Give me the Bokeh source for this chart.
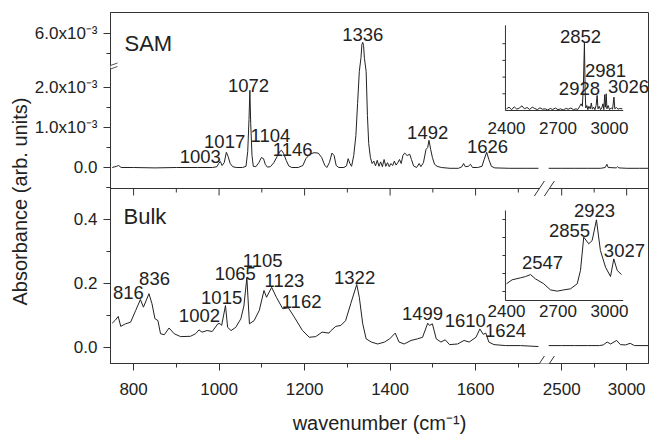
import numpy as np
from bokeh.plotting import figure
from bokeh.models import Range1d, FixedTicker, Span, Arrow, Title
from bokeh.core.properties import value
from bokeh.embed import file_html
from bokeh.resources import INLINE

FONT = "Liberation Sans"
INK = "#222222"
AXIS = "#333333"

# ---------------- data ----------------
# SAM spectrum, absorbance in units of 1e-3, low-wavenumber segment
sam_wn = [750, 760, 765, 771, 800, 850, 900, 950, 985, 995, 999, 1003, 1007, 1012, 1017, 1021, 1026,
          1032, 1040, 1055, 1063, 1067, 1070, 1072, 1074, 1077, 1080, 1086, 1093, 1099, 1104, 1108,
          1113, 1120, 1128, 1136, 1142, 1146, 1151, 1157, 1163, 1170, 1185, 1196, 1203, 1212, 1222,
          1232, 1240, 1247, 1252, 1258, 1264, 1269, 1274, 1280, 1292, 1298, 1302, 1306, 1310, 1315,
          1320, 1324, 1328, 1332, 1334, 1336, 1338, 1340, 1344, 1347, 1350, 1354, 1358, 1362, 1366,
          1370, 1374, 1378, 1382, 1386, 1390, 1394, 1398, 1402, 1406, 1410, 1414, 1418, 1422, 1426,
          1430, 1434, 1440, 1446, 1450, 1455, 1462, 1468, 1472, 1478, 1484, 1488, 1491, 1495, 1499,
          1504, 1510, 1520, 1540, 1560, 1568, 1572, 1576, 1583, 1588, 1593, 1605, 1615, 1620, 1626,
          1631, 1637, 1645, 1680, 1720, 1747]
sam_abs_e3 = [0.00, 0.03, 0.05, 0.00, 0.00, -0.01, 0.00, 0.00, 0.00, 0.02, 0.10, 0.15, 0.05, 0.12, 0.38,
              0.28, 0.10, 0.02, 0.00, 0.00, 0.03, 0.40, 1.20, 1.93, 1.10, 0.30, 0.03, 0.02, 0.12, 0.25,
              0.22, 0.08, 0.01, 0.02, 0.12, 0.28, 0.40, 0.43, 0.35, 0.18, 0.04, 0.00, 0.00, 0.05, 0.22,
              0.33, 0.37, 0.36, 0.25, 0.06, 0.00, 0.12, 0.36, 0.30, 0.05, 0.00, 0.00, 0.04, 0.22, 0.10,
              0.03, 0.30, 0.80, 1.60, 2.40, 5.40, 5.72, 5.78, 5.70, 5.38, 2.40, 1.30, 0.60, 0.25, 0.10,
              0.16, 0.04, 0.18, 0.03, 0.14, 0.02, 0.20, 0.03, 0.12, 0.02, 0.10, 0.05, 0.16, 0.06, 0.12,
              0.20, 0.10, 0.30, 0.36, 0.30, 0.33, 0.20, 0.04, 0.00, 0.10, 0.02, 0.12, 0.45, 0.50, 0.68,
              0.45, 0.25, 0.08, 0.03, 0.00, -0.02, -0.02, 0.02, 0.10, 0.02, 0.03, 0.08, 0.00, 0.00, 0.03,
              0.20, 0.38, 0.20, 0.03, -0.01, -0.02, -0.02, -0.02]
# SAM spectrum, high-wavenumber segment
sam_wn_hi = [2400, 2500, 2600, 2700, 2800, 2835, 2848, 2858, 2920, 2930, 2940, 3000, 3100, 3165]
sam_abs_e3_hi = [-0.02, -0.02, -0.02, -0.02, -0.02, 0.00, 0.08, 0.00, -0.01, 0.02, -0.01, -0.02, -0.02, -0.02]
# SAM inset (C-H region, arbitrary units)
sam_inset_wn = [2400, 2415, 2430, 2445, 2460, 2475, 2490, 2505, 2520, 2535, 2550, 2565, 2580, 2595,
                2610, 2625, 2640, 2655, 2670, 2685, 2700, 2715, 2730, 2745, 2760, 2775, 2790, 2805,
                2815, 2825, 2835, 2842, 2848, 2854, 2858, 2862, 2868, 2874, 2880, 2888, 2894, 2900,
                2908, 2915, 2922, 2928, 2933, 2940, 2948, 2955, 2962, 2967, 2972, 2976, 2981, 2985,
                2992, 3000, 3010, 3018, 3026, 3031, 3040, 3050, 3060, 3075]
sam_inset_val = [0.10, 0.20, 0.05, 0.22, 0.08, 0.15, 0.28, 0.10, 0.18, 0.06, 0.20, 0.12, 0.05, 0.16,
                 0.08, 0.10, 0.04, 0.12, 0.06, 0.15, 0.05, 0.10, 0.03, 0.12, 0.08, 0.15, 0.05, 0.10,
                 0.06, 0.22, 0.40, 0.25, 1.50, 4.07, 1.20, 0.15, 0.30, 0.05, 0.25, 0.10, 0.45, 0.08,
                 0.20, 0.05, 0.30, 0.90, 0.10, 0.25, 0.05, 0.15, 0.40, 0.05, 0.95, 0.20, 1.00, 0.10,
                 0.30, 0.05, 0.15, 0.08, 0.80, 0.10, 0.18, 0.08, 0.12, 0.10]

# Bulk spectrum, absorbance, low-wavenumber segment
bulk_wn = [750, 757, 764, 770, 781, 793, 805, 816, 823, 836, 843, 850, 857, 863, 872, 883, 895, 910,
           933, 945, 953, 960, 972, 984, 997, 1002, 1006, 1015, 1020, 1028, 1039, 1051, 1058, 1065,
           1071, 1082, 1094, 1105, 1111, 1123, 1134, 1149, 1162, 1176, 1195, 1211, 1226, 1241, 1257,
           1262, 1273, 1285, 1296, 1308, 1322, 1328, 1336, 1344, 1356, 1371, 1387, 1399, 1412, 1421,
           1433, 1449, 1464, 1476, 1488, 1492, 1499, 1508, 1519, 1529, 1539, 1558, 1573, 1585, 1601,
           1610, 1618, 1624, 1631, 1643, 1670, 1705, 1747]
bulk_abs = [0.076, 0.085, 0.097, 0.066, 0.074, 0.079, 0.116, 0.150, 0.126, 0.168, 0.137, 0.090, 0.084,
            0.043, 0.040, 0.061, 0.043, 0.034, 0.035, 0.043, 0.055, 0.048, 0.053, 0.050, 0.074, 0.075,
            0.069, 0.131, 0.063, 0.053, 0.063, 0.090, 0.130, 0.218, 0.074, 0.084, 0.116, 0.178, 0.157,
            0.188, 0.157, 0.121, 0.124, 0.095, 0.053, 0.032, 0.034, 0.048, 0.045, 0.053, 0.066, 0.069,
            0.084, 0.137, 0.197, 0.157, 0.074, 0.027, 0.017, 0.011, 0.017, 0.027, 0.045, 0.017, 0.011,
            0.022, 0.027, 0.032, 0.076, 0.069, 0.074, 0.027, 0.017, 0.024, 0.009, 0.011, 0.022, 0.017,
            0.032, 0.058, 0.041, 0.045, 0.017, 0.009, 0.006, 0.006, 0.003]
bulk_wn_hi = [2400, 2500, 2600, 2700, 2790, 2820, 2850, 2877, 2923, 2952, 2990, 3027, 3060, 3165]
bulk_abs_hi = [0.006, 0.006, 0.006, 0.006, 0.006, 0.008, 0.017, 0.011, 0.022, 0.009, 0.008, 0.013, 0.006, 0.006]
# Bulk inset (arbitrary units)
bulk_inset_wn = [2400, 2433, 2482, 2511, 2540, 2569, 2617, 2656, 2695, 2734, 2773, 2812, 2831, 2850,
                 2879, 2899, 2924, 2947, 2977, 3006, 3025, 3045, 3070]
bulk_inset_val = [0.93, 1.15, 1.26, 1.33, 1.44, 1.20, 0.93, 0.59, 0.52, 0.59, 0.65, 0.93, 1.67, 3.52,
                  3.15, 3.33, 4.48, 2.78, 1.85, 1.33, 2.31, 1.67, 1.44]

# ticks
x_major = [800, 1000, 1200, 1400, 1600, 2500, 3000]
x_minor = [900, 1100, 1300, 1500, 1700, 2750]
bulk_y_major = [0.0, 0.2, 0.4]
bulk_y_minor = [0.1, 0.3, 0.5]
bulk_y_labels = ["0.0", "0.2", "0.4"]
sam_y_major = [0.0, 1.0, 2.0, 6.0]        # x 1e-3
sam_y_minor = [-0.5, 0.5, 1.5, 5.5]
sam_y_labels = ["0.0", "1.0x10\u207b\u00b3", "2.0x10\u207b\u00b3", "6.0x10\u207b\u00b3"]
inset_x_ticks = [2400, 2700, 3000]
sam_inset_y_ticks = [1, 2, 3, 4]
bulk_inset_y_ticks = [0.5, 1.5, 2.5, 3.5, 4.5]

# peak labels: (text, wavenumber anchor, value anchor)
sam_labels = [("1003", 956, 0.275), ("1017", 1013, 0.65), ("1072", 1069, 2.05), ("1104", 1120, 0.8),
              ("1146", 1172, 0.45), ("1336", 1336, 5.975), ("1492", 1488, 0.875), ("1626", 1628, 0.525)]
sam_inset_labels = [("2852", 2831, 4.43), ("2981", 2977, 2.4), ("2928", 2825, 1.32), ("3026", 3111, 1.44)]
bulk_labels = [("816", 788, 0.172), ("836", 849, 0.216), ("1002", 954, 0.1), ("1015", 1006, 0.156),
               ("1065", 1038, 0.231), ("1105", 1102, 0.272), ("1123", 1153, 0.209), ("1162", 1193, 0.144),
               ("1322", 1317, 0.219), ("1499", 1476, 0.106), ("1610", 1576, 0.084), ("1624", 1670, 0.053)]
bulk_inset_labels = [("2547", 2610, 2.11), ("2855", 2767, 3.89), ("2923", 2913, 5.0), ("3027", 3087, 2.78)]

# ---------------- broken-axis geometry ----------------
PXU = 0.4275                      # px per display x unit
X_LEFT, X_RIGHT = 746.0, 2004.5
X_BREAK_LO, X_BREAK_HI = 1750.0, 2400.0
X_HI_START, X_HI_SCALE = 1771.0, 0.304
INSET_X0, INSET_XS = 1672.3, 0.4016
INSET_X_MIN, INSET_X_MAX = 2394, 3080


def xd(wn):
    wn = np.asarray(wn, float)
    return np.where(wn <= X_BREAK_LO, wn, X_HI_START + (wn - X_BREAK_HI) * X_HI_SCALE)


def xi(wn):
    return INSET_X0 + (np.asarray(wn, float) - 2400.0) * INSET_XS


def y_bulk(a):
    return 16.0 + 320.0 * np.asarray(a, float)


SAM_LO, SAM_HI = 2.575, 5.225


def y_sam(v):
    v = np.asarray(v, float)
    return np.where(v <= SAM_LO, 196.0 + 40.0 * v,
                    np.where(v >= SAM_HI, 90.0 + 40.0 * v, 196.0 + 40.0 * SAM_LO))


def y_sam_in(u):
    return 253.0 + 16.7 * np.asarray(u, float)


def y_bulk_in(u):
    return 63.0 + 18.0 * np.asarray(u, float)


def fl(a):
    return [round(float(v), 6) for v in np.atleast_1d(a)]


MID = 175.0  # boundary between the panels (display units)

p = figure(width=650, height=437, output_backend="svg", toolbar_location=None,
           x_range=Range1d(X_LEFT, X_RIGHT), y_range=Range1d(0, 351),
           min_border_left=110, min_border_right=2, min_border_top=12, min_border_bottom=74)
p.xgrid.visible = False
p.ygrid.visible = False
p.outline_line_color = AXIS
p.background_fill_color = "white"
p.border_fill_color = "white"

# x axis
xmaj = fl(xd(x_major))
xmin = fl(xd(x_minor))
p.xaxis.ticker = FixedTicker(ticks=xmaj, minor_ticks=xmin)
p.xaxis.major_label_overrides = {k: str(t) for k, t in zip(xmaj, x_major)}
# y axis
ymaj = fl(y_bulk(bulk_y_major)) + fl(y_sam(sam_y_major))
ymin = fl(y_bulk(bulk_y_minor)) + fl(y_sam(sam_y_minor))
p.yaxis.ticker = FixedTicker(ticks=ymaj, minor_ticks=ymin)
p.yaxis.major_label_overrides = dict(zip(ymaj, bulk_y_labels + sam_y_labels))

for ax in (p.xaxis[0], p.yaxis[0]):
    ax.axis_line_color = AXIS
    ax.major_tick_line_color = AXIS
    ax.minor_tick_line_color = AXIS
    ax.major_tick_in = 0
    ax.major_tick_out = 7
    ax.minor_tick_in = 0
    ax.minor_tick_out = 4
    ax.major_label_text_font = FONT
    ax.major_label_text_font_size = "17px"
    ax.major_label_text_color = INK
p.xaxis.major_label_standoff = 12
p.yaxis.major_label_standoff = 6
p.xaxis.axis_label = "wavenumber (cm\u207b\u00b9)"
p.xaxis.axis_label_text_font = FONT
p.xaxis.axis_label_text_font_size = "20px"
p.xaxis.axis_label_text_font_style = "normal"
p.xaxis.axis_label_text_color = INK
p.xaxis.axis_label_standoff = 14

# y title, placed on the left side
p.add_layout(Title(text="Absorbance (arb. units)", align="left", offset=58, standoff=2,
                   text_font=FONT, text_font_size="20px", text_font_style="normal",
                   text_color=INK), "left")

# panel boundary with downward ticks
p.add_layout(Span(location=MID, dimension="width", line_color=AXIS, line_width=1))
p.segment(x0=xmaj, y0=[MID] * len(xmaj), x1=xmaj, y1=[MID - 7] * len(xmaj), line_color=AXIS, line_width=1)
p.segment(x0=xmin, y0=[MID] * len(xmin), x1=xmin, y1=[MID - 4] * len(xmin), line_color=AXIS, line_width=1)

# spectra
p.line(fl(xd(sam_wn)), fl(y_sam(sam_abs_e3)), line_color=INK, line_width=1)
p.line(fl(xd(sam_wn_hi)), fl(y_sam(sam_abs_e3_hi)), line_color=INK, line_width=1)
p.line(fl(xd(bulk_wn)), fl(y_bulk(bulk_abs)), line_color=INK, line_width=1)
p.line(fl(xd(bulk_wn_hi)), fl(y_bulk(bulk_abs_hi)), line_color=INK, line_width=1)

# insets
TICK_LEN = 3 / PXU
for yfun, top_u, yticks, wn, val, lab_u in (
        (y_sam_in, 5.1, sam_inset_y_ticks, sam_inset_wn, sam_inset_val, -1.02),
        (y_bulk_in, 5.0, bulk_inset_y_ticks, bulk_inset_wn, bulk_inset_val, -0.56)):
    x0 = float(xi(INSET_X_MIN)); x1 = float(xi(INSET_X_MAX))
    yb = float(yfun(0)); yt = float(yfun(top_u))
    p.line([x0, x1], [yb, yb], line_color=AXIS, line_width=1)
    p.line([x0, x0], [yb, yt], line_color=AXIS, line_width=1)
    ty = fl(yfun(yticks))
    p.segment(x0=[x0] * len(ty), y0=ty, x1=[x0 - TICK_LEN] * len(ty), y1=ty, line_color=AXIS, line_width=1)
    p.line(fl(xi(wn)), fl(yfun(val)), line_color=INK, line_width=1)
    p.text(x=fl(xi(inset_x_ticks)), y=[float(yfun(lab_u))] * len(inset_x_ticks),
           text=[str(t) for t in inset_x_ticks], text_font=value(FONT), text_font_size=value("17px"),
           text_color=INK, text_align="center", text_baseline="middle")


def put_labels(items, xf, yf, size="18.5px"):
    p.text(x=fl(xf([i[1] for i in items])), y=fl(yf([i[2] for i in items])), text=[i[0] for i in items],
           text_font=value(FONT), text_font_size=value(size), text_color=INK,
           text_align="center", text_baseline="middle")


put_labels(sam_labels, xd, y_sam)
put_labels(bulk_labels, xd, y_bulk)
put_labels(sam_inset_labels, xi, y_sam_in)
put_labels(bulk_inset_labels, xi, y_bulk_in)

# panel names
p.text(x=fl(xd([778.7])), y=fl(y_sam([5.75])), text=["SAM"], text_font=value(FONT),
       text_font_size=value("22px"), text_color=INK, text_align="left", text_baseline="middle")
p.text(x=fl(xd([776.4])), y=fl(y_bulk([0.408])), text=["Bulk"], text_font=value(FONT),
       text_font_size=value("22px"), text_color=INK, text_align="left", text_baseline="middle")

# axis break marks
XB = (X_BREAK_LO + X_HI_START) / 2 + 0.5
HW, HH, SEP = 5 / PXU, 7.5, 10 / PXU
for yc in (MID, 0.0):
    p.add_layout(Arrow(start=None, end=None, x_start=XB - SEP / 2, y_start=yc, x_end=XB + SEP / 2, y_end=yc,
                       line_color="white", line_width=3))
    for dx in (-SEP / 2, SEP / 2):
        p.add_layout(Arrow(start=None, end=None, x_start=XB + dx - HW, y_start=yc - HH,
                           x_end=XB + dx + HW, y_end=yc + HH, line_color=AXIS, line_width=1))
yb = float(y_sam(SAM_LO))
p.add_layout(Arrow(start=None, end=None, x_start=X_LEFT, y_start=yb - 1.2, x_end=X_LEFT, y_end=yb - 3.8,
                   line_color="white", line_width=3))
for dy in (0.0, -3.5):
    p.add_layout(Arrow(start=None, end=None, x_start=X_LEFT - 7 / PXU, y_start=yb + dy - 3.5,
                       x_end=X_LEFT + 7 / PXU, y_end=yb + dy + 1.5, line_color="#555555", line_width=1))

open("out.html", "w").write(file_html(p, INLINE))
